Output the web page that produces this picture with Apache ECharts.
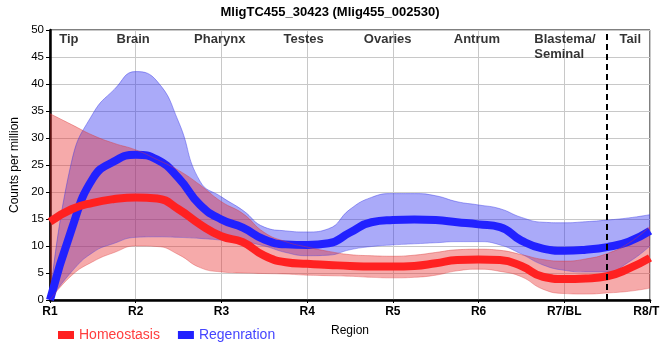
<!DOCTYPE html>
<html>
<head>
<meta charset="utf-8">
<script src="https://cdn.jsdelivr.net/npm/echarts@6/dist/echarts.min.js"></script>
<style>html,body{margin:0;padding:0;background:#fff;}#c{width:660px;height:360px;}</style>
</head>
<body>
<div id="c"></div>
<script>
// ---- data ----
const tickLabels = ['R1','R2','R3','R4','R5','R6','R7/BL','R8/TL'];
const positions = [1,1.25,1.5,1.75,2,2.25,2.5,2.75,3,3.25,3.5,3.75,4,4.25,4.5,4.75,5,5.25,5.5,5.75,6,6.25,6.5,6.75,7,7.25,7.5,7.75,8];

const homeoMean  = [14.5,16.8,18.0,18.7,19.0,18.8,16.8,14.0,11.8,10.7,8.2,7.0,6.7,6.5,6.3,6.2,6.2,6.3,6.8,7.4,7.5,7.4,6.3,4.3,3.9,4.0,4.4,5.8,7.8];
const homeoUpper = [34.5,32.5,30.5,29.0,27.8,26.0,24.0,21.3,18.2,16.0,12.5,10.8,9.8,9.0,8.4,8.2,8.1,8.3,8.8,9.3,9.4,9.2,8.4,7.5,7.2,7.6,8.6,10.5,13.6];
const homeoLower = [0,4.5,7.1,8.8,10.0,9.9,8.4,6.0,5.2,5.0,4.9,4.8,4.6,4.5,4.4,4.2,4.1,4.2,4.6,5.4,5.7,5.3,4.3,2.0,1.2,1.1,1.3,1.6,2.2];

const regenMean  = [0,13.0,22.5,25.7,26.9,26.0,22.6,17.6,14.9,13.4,11.2,10.3,10.2,10.5,12.5,14.4,14.8,14.9,14.8,14.4,14.0,13.5,11.0,9.5,9.1,9.3,9.8,10.8,12.8];
const regenUpper = [0,25.5,34.5,39.0,42.3,40.5,33.0,22.0,19.1,16.6,13.5,12.8,12.6,13.2,16.8,19.0,19.7,19.7,19.3,18.2,17.6,16.9,15.3,14.4,14.3,14.5,14.8,15.2,15.8];
const regenLower = [0,5.2,8.8,10.5,11.6,11.7,11.6,11.4,11.1,10.8,10.0,8.8,8.2,8.3,9.3,9.9,10.2,10.4,10.6,10.8,10.8,10.2,8.5,6.5,5.5,5.2,5.2,7.0,10.0];

const regionNames = ['Tip','Brain','Pharynx','Testes','Ovaries','Antrum','Blastema/\nSeminal','Tail'];
const regionLabelX = [1.22,1.97,2.98,3.96,4.94,5.98,6.65,7.77];
const tailBoundary = 7.5;

// ---- build ----
const cats = positions.map(String);
const isTick = (i) => Number.isInteger(positions[i]);
const diffs = (up, lo) => up.map((u,i) => +(u - lo[i]).toFixed(3));

const RED = '#ff2121', BLUE = '#2121ff';
const RED_BAND = 'rgba(232,42,42,0.40)', BLUE_BAND = 'rgba(42,42,240,0.40)';
const SM = 0.5;

function bandLower(name, stack, data, edge){
  return {name, type:'line', stack, data, smooth:SM, symbol:'none',
    lineStyle:{width:1, color:edge}, z:2, silent:true};
}
function bandDiff(name, stack, data, fill, edge){
  return {name, type:'line', stack, data, smooth:SM, symbol:'none',
    lineStyle:{width:1, color:edge}, areaStyle:{color:fill, opacity:1}, z:2, silent:true};
}
function meanLine(name, data, color){
  return {name, type:'line', data, smooth:SM, symbol:'none',
    lineStyle:{width:8, color}, itemStyle:{color}, z:2};
}

const labelData = regionNames.map((n,i) => {
  const item = {value:[regionLabelX[i], 48.3], name:n};
  if (n.indexOf('\n') >= 0) {
    item.value = [regionLabelX[i], 46.9];
    item.label = {position:'right', distance:0, align:'left', lineHeight:15};
  }
  return item;
});

const font = 'Liberation Sans, Arial, sans-serif';
const chart = echarts.init(document.getElementById('c'), null, {renderer:'canvas'});
chart.setOption({
  animation:false,
  backgroundColor:'#fff',
  title:{text:'MligTC455_30423 (Mlig455_002530)', left:'center', top:1,
    textStyle:{fontSize:13, fontWeight:'bold', color:'#000', fontFamily:font}},
  legend:{data:[{name:'Homeostasis', textStyle:{color:'#ff3d3d'}}, {name:'Regenration', textStyle:{color:'#4545ff'}}],
    left:53, top:323, icon:'rect', itemWidth:16, itemHeight:8, itemGap:18,
    textStyle:{fontSize:14, fontFamily:font}},
  grid:{left:50, right:10, top:30, bottom:60, show:true, borderColor:'#000', borderWidth:1, outerBoundsMode:'none', containLabel:false},
  xAxis:[{type:'category', data:cats, boundaryGap:false,
    name:'Region', nameLocation:'middle', nameGap:25, nameTextStyle:{fontSize:12, color:'#000', fontFamily:font},
    axisLine:{show:true, onZero:false, lineStyle:{color:'#000', width:2.5}},
    axisTick:{show:true, length:3, interval:(i) => isTick(i), lineStyle:{color:'#000', width:1}},
    axisLabel:{interval:(i) => isTick(i), formatter:(v) => tickLabels[Math.round(+v)-1] || '', fontSize:12, fontWeight:'bold', color:'#000', margin:6, fontFamily:font, hideOverlap:false},
    splitLine:{show:true, interval:(i) => isTick(i), lineStyle:{color:'#c8c8c8', width:1}}},
   {type:'value', min:1, max:8, show:false, position:'bottom'}],
  yAxis:{type:'value', min:0, max:50, interval:5,
    name:'Counts per million', nameLocation:'middle', nameGap:23, nameTextStyle:{fontSize:12, color:'#000', fontFamily:font},
    axisLine:{show:true, onZero:false, lineStyle:{color:'#000', width:2.5}},
    axisTick:{show:true, length:4, lineStyle:{color:'#000', width:1}},
    axisLabel:{fontSize:11.5, color:'#000', margin:6, fontFamily:font},
    splitLine:{show:true, lineStyle:{color:'#c8c8c8', width:1}}},
  series:[
    bandLower('regenLower','regen', regenLower, 'rgba(60,60,230,0.35)'),
    bandDiff('regenBand','regen', diffs(regenUpper, regenLower), BLUE_BAND, 'rgba(60,60,230,0.45)'),
    meanLine('Regenration', regenMean, BLUE),
    bandLower('homeoLower','homeo', homeoLower, 'rgba(220,60,60,0.35)'),
    bandDiff('homeoBand','homeo', diffs(homeoUpper, homeoLower), RED_BAND, 'rgba(220,60,60,0.45)'),
    meanLine('Homeostasis', homeoMean, RED),
    {name:'regions', type:'scatter', xAxisIndex:1, data:labelData, symbolSize:0, silent:true, z:5,
      label:{show:true, position:'inside', formatter:p => p.name, fontSize:13, fontWeight:'bold', color:'#000', fontFamily:font, lineHeight:15},
      markLine:{silent:true, symbol:'none', label:{show:false},
        lineStyle:{color:'#000', width:2, type:[6,4]},
        data:[{xAxis:tailBoundary}]}}
  ]
});
</script>
</body>
</html>
